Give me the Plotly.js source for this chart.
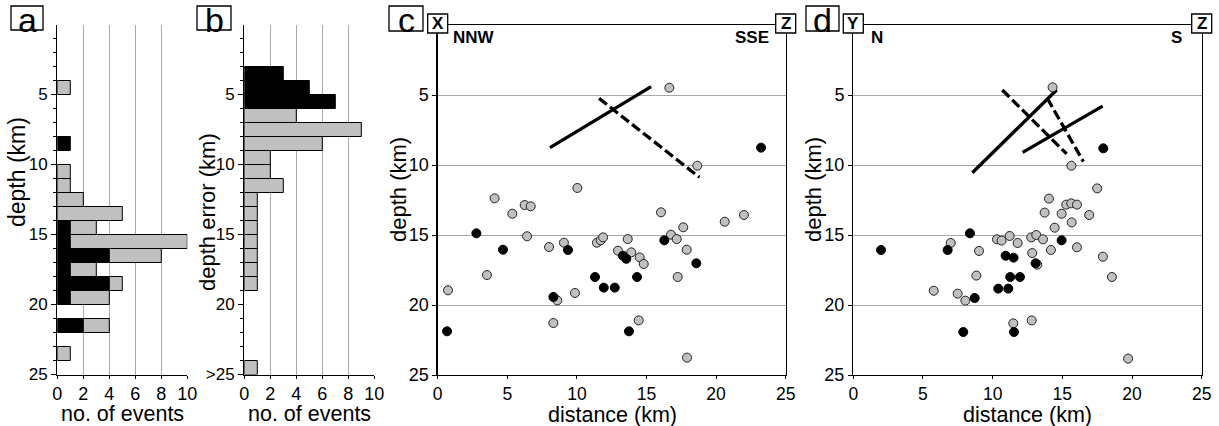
<!DOCTYPE html>
<html><head><meta charset="utf-8">
<script src="https://cdn.plot.ly/plotly-3.0.1.min.js"></script>
<style>html,body{margin:0;padding:0;background:#fff}#chart{width:1219px;height:426px}</style>
</head><body><div id="chart"></div>
<script>
// ---- Panel a: depth histogram (bin top depth, km) ----
const aBinTop = [4, 8, 10, 11, 12, 13, 14, 15, 16, 17, 18, 19, 21, 23];
const aBlack  = [0, 1, 0, 0, 0, 0, 1, 1, 4, 1, 4, 1, 2, 0];
const aTotal  = [1, 1, 1, 1, 2, 5, 3, 10, 8, 3, 5, 4, 4, 1];
// ---- Panel b: depth error histogram ----
const bBinTop = [3, 4, 5, 6, 7, 8, 9, 10, 11, 12, 13, 14, 15, 16, 17, 18, 24];
const bBlack  = [3, 5, 7, 0, 0, 0, 0, 0, 0, 0, 0, 0, 0, 0, 0, 0, 0];
const bGray   = [0, 0, 0, 4, 9, 6, 2, 2, 3, 1, 1, 1, 1, 1, 1, 1, 1];
const bTickVals = [5, 10, 15, 20, 25];
const bTickText = ['5', '10', '15', '20', '>25'];
// ---- Panel c: NNW-SSE section ----
const cGrayDist  = [4.09, 5.36, 6.25, 6.68, 10.03, 6.42, 8.0, 9.07, 11.44, 11.71, 11.88, 13.65, 12.95, 13.91, 14.51, 16.04, 16.76, 17.17, 17.64, 17.89, 20.62, 22.0, 14.80, 3.54, 17.24, 0.74, 9.86, 8.59, 8.31, 14.44, 17.91, 16.64, 18.65];
const cGrayDepth = [12.38, 13.48, 12.86, 12.95, 11.64, 15.09, 15.86, 15.55, 15.55, 15.38, 15.17, 15.29, 16.12, 16.24, 16.6, 13.38, 14.98, 15.29, 14.45, 16.05, 14.05, 13.57, 17.07, 17.86, 18.0, 18.95, 19.14, 19.67, 21.29, 21.1, 23.76, 4.48, 10.05];
const cBlackDist  = [2.78, 4.69, 9.36, 13.31, 13.55, 16.28, 18.58, 11.3, 14.32, 11.93, 12.72, 8.31, 0.67, 13.74, 23.23];
const cBlackDepth = [14.88, 16.05, 16.07, 16.48, 16.7, 15.38, 17.02, 18.0, 18.0, 18.76, 18.76, 19.43, 21.88, 21.88, 8.76];
const cSolidDist = [8.07, 15.33], cSolidDepth = [8.76, 4.4];
const cDashDist  = [11.59, 18.8], cDashDepth  = [5.24, 10.88];
// ---- Panel d: N-S section ----
const dGrayDist  = [17.5, 14.04, 13.73, 14.95, 15.28, 15.64, 16.05, 16.93, 15.67, 14.45, 6.99, 9.02, 10.31, 10.64, 11.22, 11.79, 12.77, 13.13, 13.61, 12.84, 14.18, 16.05, 17.91, 8.83, 18.56, 5.77, 7.49, 8.04, 11.48, 12.80, 19.72, 14.3, 15.65, 13.2];
const dGrayDepth = [11.67, 12.4, 13.4, 13.48, 12.83, 12.74, 12.83, 13.57, 14.1, 14.48, 15.57, 16.14, 15.31, 15.40, 15.07, 15.57, 15.17, 15.0, 15.31, 16.29, 16.07, 15.88, 16.55, 17.9, 18.0, 18.98, 19.19, 19.69, 21.31, 21.1, 23.83, 4.45, 10.05, 17.12];
const dBlackDist  = [8.37, 1.99, 6.77, 14.95, 10.93, 11.5, 13.08, 11.26, 11.96, 10.40, 11.12, 8.71, 7.89, 11.53, 17.94];
const dBlackDepth = [14.88, 16.07, 16.07, 15.38, 16.48, 16.62, 17.02, 18.0, 18.0, 18.83, 18.83, 19.5, 21.93, 21.93, 8.81];
const dSolidDist = [8.54, 14.59, null, 12.15, 17.89], dSolidDepth = [10.55, 4.64, null, 9.1, 5.79];
const dDashDist  = [10.69, 15.31, null, 13.92, 16.51], dDashDepth  = [4.64, 9.21, null, 5.24, 9.76];

const W = 1219, H = 426;
const PX = v => v / W, PY = v => 1 - v / H;
const FONT = 'Liberation Sans, Arial, Helvetica, sans-serif';
const GRAY = '#c0c0c0', GRID = '#a8a8a8';
const nz = a => a.map(v => v === 0 ? null : v);

const traces = [];
// panel a
traces.push({type:'bar', orientation:'h', xaxis:'x', yaxis:'y', y:aBinTop.map(v=>v+0.5), x:nz(aBlack), base:0, width:1,
  marker:{color:'#000', line:{color:'#000', width:1}}, hoverinfo:'skip'});
traces.push({type:'bar', orientation:'h', xaxis:'x', yaxis:'y', y:aBinTop.map(v=>v+0.5), x:nz(aTotal.map((t,i)=>t-aBlack[i])), base:aBlack, width:1,
  marker:{color:GRAY, line:{color:'#000', width:1}}, hoverinfo:'skip'});
// panel b
traces.push({type:'bar', orientation:'h', xaxis:'x2', yaxis:'y2', y:bBinTop.map(v=>v+0.5), x:nz(bBlack), base:0, width:1,
  marker:{color:'#000', line:{color:'#000', width:1}}, hoverinfo:'skip'});
traces.push({type:'bar', orientation:'h', xaxis:'x2', yaxis:'y2', y:bBinTop.map(v=>v+0.5), x:nz(bGray), base:0, width:1,
  marker:{color:GRAY, line:{color:'#000', width:1}}, hoverinfo:'skip'});
// panel c
traces.push({type:'scatter', mode:'lines', xaxis:'x3', yaxis:'y3', x:cSolidDist, y:cSolidDepth, line:{color:'#000', width:3.3}});
traces.push({type:'scatter', mode:'lines', xaxis:'x3', yaxis:'y3', x:cDashDist, y:cDashDepth, line:{color:'#000', width:3.3, dash:'10px,4px'}});
traces.push({type:'scatter', mode:'markers', xaxis:'x3', yaxis:'y3', x:cGrayDist, y:cGrayDepth, marker:{size:9, color:GRAY, line:{color:'#222', width:1}}});
traces.push({type:'scatter', mode:'markers', xaxis:'x3', yaxis:'y3', x:cBlackDist, y:cBlackDepth, marker:{size:9, color:'#000', line:{color:'#000', width:1}}});
// panel d
traces.push({type:'scatter', mode:'lines', xaxis:'x4', yaxis:'y4', x:dSolidDist, y:dSolidDepth, line:{color:'#000', width:3.3}, connectgaps:false});
traces.push({type:'scatter', mode:'lines', xaxis:'x4', yaxis:'y4', x:dDashDist, y:dDashDepth, line:{color:'#000', width:3.3, dash:'10px,4px'}, connectgaps:false});
traces.push({type:'scatter', mode:'markers', xaxis:'x4', yaxis:'y4', x:dGrayDist, y:dGrayDepth, marker:{size:9, color:GRAY, line:{color:'#222', width:1}}});
traces.push({type:'scatter', mode:'markers', xaxis:'x4', yaxis:'y4', x:dBlackDist, y:dBlackDepth, marker:{size:9, color:'#000', line:{color:'#000', width:1}}});

const f = s => ({family:FONT, size:s, color:'#000'});
function histX(l, r, anchor){
  return {domain:[PX(l),PX(r)], anchor:anchor, range:[0,10], dtick:2, tick0:0, showgrid:true, gridcolor:GRID, gridwidth:1,
    showline:true, linecolor:'#000', linewidth:1.3, ticks:'outside', ticklen:3, tickcolor:'#000', zeroline:false,
    tickfont:f(18), fixedrange:true};
}
function histY(anchor, ticktext){
  return {domain:[PY(374.5),PY(24.5)], anchor:anchor, range:[25,0], tickmode:'array', tickvals:[5,10,15,20,25], ticktext:ticktext,
    showgrid:false, showline:true, linecolor:'#000', linewidth:1.3, ticks:'outside', ticklen:5, tickcolor:'#000', zeroline:false,
    minor:{tickmode:'array', tickvals:[1,2,3,4,6,7,8,9,11,12,13,14,16,17,18,19,21,22,23,24], ticks:'outside', ticklen:3, tickcolor:'#000', showgrid:false},
    tickfont:f(17), fixedrange:true};
}
function secX(l, r, anchor){
  return {domain:[PX(l),PX(r)], anchor:anchor, range:[0,25], dtick:5, tick0:0, showgrid:false, showline:true, mirror:true,
    linecolor:'#000', linewidth:1.3, ticks:'outside', ticklen:3, tickcolor:'#000', zeroline:false,
    tickfont:f(17.5), fixedrange:true};
}
function secY(anchor){
  return {domain:[PY(375),PY(25)], anchor:anchor, range:[25,0], tickmode:'array', tickvals:[5,10,15,20,25],
    showgrid:true, gridcolor:GRID, gridwidth:1, showline:true, mirror:true, linecolor:'#000', linewidth:1.3,
    ticks:'outside', ticklen:4, tickcolor:'#000', zeroline:false, tickfont:f(18), fixedrange:true};
}

const shapes = [], annotations = [];
function bigLabel(txt, x0, x1, y0, y1){
  shapes.push({type:'rect', xref:'paper', yref:'paper', x0:PX(x0), x1:PX(x1), y0:PY(y1), y1:PY(y0), line:{color:'#000', width:1.3}, fillcolor:'#fff', layer:'above'});
  annotations.push({xref:'paper', yref:'paper', x:PX((x0+x1)/2), y:PY((y0+y1)/2+1.5), xanchor:'center', yanchor:'middle', showarrow:false,
    text:txt, font:f(34)});
}
function smallLabel(txt, cx){
  shapes.push({type:'rect', xref:'paper', yref:'paper', x0:PX(cx-10), x1:PX(cx+10), y0:PY(33), y1:PY(14), line:{color:'#000', width:1.3}, fillcolor:'#fff', layer:'above'});
  annotations.push({xref:'paper', yref:'paper', x:PX(cx), y:PY(23.5), xanchor:'center', yanchor:'middle', showarrow:false,
    text:'<b>'+txt+'</b>', font:f(17)});
}
function dirLabel(txt, x, anchor){
  annotations.push({xref:'paper', yref:'paper', x:PX(x), y:PY(37.5), xanchor:anchor, yanchor:'middle', showarrow:false,
    text:'<b>'+txt+'</b>', font:f(17)});
}
function axisTitle(txt, cx, cy, vertical, size){
  annotations.push({xref:'paper', yref:'paper', x:PX(cx), y:PY(cy), xanchor:'center', yanchor:'middle', showarrow:false,
    textangle: vertical ? -90 : 0, text:txt, font:f(size)});
}
bigLabel('a', 11, 43, 6, 30);
bigLabel('b', 197, 231, 6, 30);
bigLabel('c', 389, 423, 6, 31);
bigLabel('d', 806, 839, 6, 31);
smallLabel('X', 437.7); smallLabel('Z', 785.7);
smallLabel('Y', 853.3); smallLabel('Z', 1201.7);
dirLabel('NNW', 451, 'left'); dirLabel('SSE', 771, 'right');
dirLabel('N', 869, 'left'); dirLabel('S', 1184, 'right');
axisTitle('depth (km)', 17, 172, true, 23);
axisTitle('depth error (km)', 207, 212, true, 22);
axisTitle('depth (km)', 398, 190, true, 22);
axisTitle('depth (km)', 813, 190, true, 22);
axisTitle('no. of events', 122, 414, false, 21.5);
axisTitle('no. of events', 309, 414, false, 21.5);
axisTitle('distance (km)', 612, 414.5, false, 21.5);
axisTitle('distance (km)', 1027, 414.5, false, 21.5);

const layout = {
  width:W, height:H, margin:{l:0, r:0, t:0, b:0}, paper_bgcolor:'#fff', plot_bgcolor:'rgba(0,0,0,0)',
  showlegend:false, barmode:'overlay', font:{family:FONT, color:'#000'},
  xaxis: histX(57.3, 187.3, 'y'), yaxis: histY('x', ['5','10','15','20','25']),
  xaxis2: histX(244.3, 374.3, 'y2'), yaxis2: histY('x2', bTickText),
  xaxis3: secX(437.7, 785.7, 'y3'), yaxis3: secY('x3'),
  xaxis4: secX(853.3, 1201.7, 'y4'), yaxis4: secY('x4'),
  shapes: shapes, annotations: annotations
};
Plotly.newPlot('chart', traces, layout, {staticPlot:true, displayModeBar:false});
</script></body></html>
